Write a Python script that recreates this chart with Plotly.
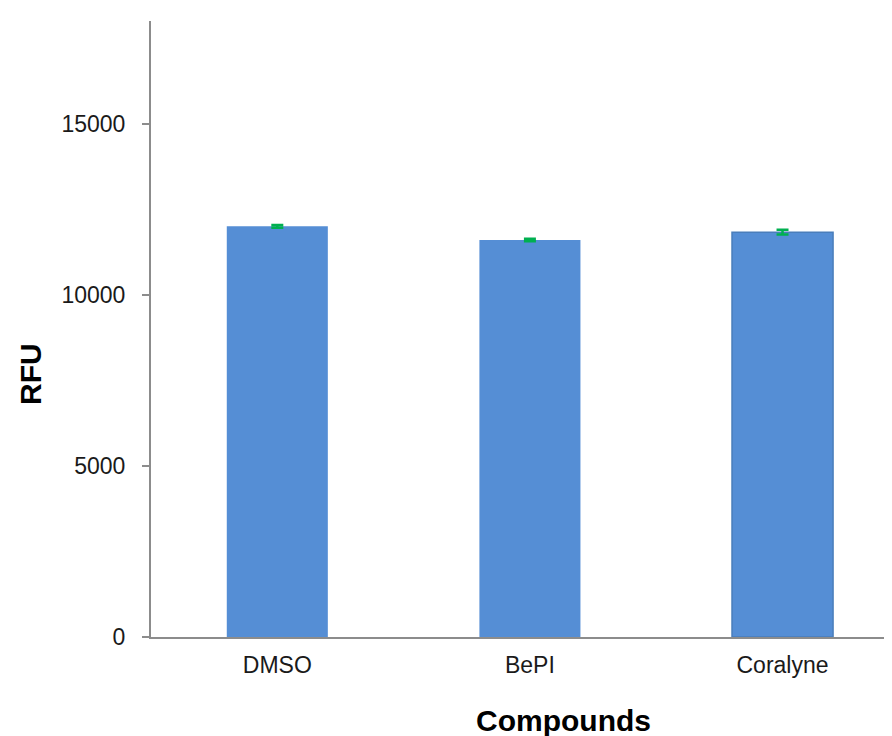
import plotly.graph_objects as go

categories = ["DMSO", "BePI", "Coralyne"]
rfu_values = [12000, 11600, 11830]
rfu_errors = [40, 35, 70]
y_tick_values = [0, 5000, 10000, 15000]
y_tick_labels = ["0", "5000", "10000", "15000"]

W, H = 892, 736
L, R, T, B = 143, 0, 13, 107
plot_w = W - L - R
plot_h = H - T - B

bar_color = "#558ED5"
axis_color = "#8C8C8C"
font_family = "Liberation Sans, Arial, sans-serif"

fig = go.Figure()
fig.add_trace(go.Bar(
    x=categories,
    y=rfu_values,
    width=0.4,
    marker=dict(color=bar_color,
                line=dict(color=["rgba(0,0,0,0)", "rgba(0,0,0,0)", "#4A7EBB"],
                          width=[0, 0, 1.5])),
    error_y=dict(type="data", array=rfu_errors, visible=True,
                 color="#00B050", thickness=2.5, width=6),
    showlegend=False,
))

def px_x(px):
    return (px - L) / plot_w

def px_y(px):
    return (H - B - px) / plot_h

fig.update_layout(
    width=W, height=H,
    margin=dict(l=L, r=R, t=T, b=B, pad=0),
    plot_bgcolor="white",
    paper_bgcolor="white",
    font=dict(family=font_family, color="#1A1A1A", size=23),
    xaxis=dict(
        range=[-0.5, 2.465],
        showline=True, linecolor=axis_color, linewidth=2,
        ticks="", showgrid=False, zeroline=False,
        tickfont=dict(size=23, color="#1A1A1A"),
        ticklabelstandoff=6,
        automargin=False,
    ),
    yaxis=dict(
        range=[0, 18000],
        tickvals=y_tick_values, ticktext=y_tick_labels,
        showline=True, linecolor=axis_color, linewidth=2,
        ticks="outside", ticklen=7, tickwidth=2, tickcolor=axis_color,
        showgrid=False, zeroline=False,
        tickfont=dict(size=23, color="#1A1A1A"),
        ticklabelstandoff=12,
        automargin=False,
    ),
    bargap=0.6,
    annotations=[
        dict(text="<b>RFU</b>", xref="paper", yref="paper",
             x=px_x(22), y=px_y(366), textangle=-90, showarrow=False,
             xanchor="center", yanchor="middle",
             font=dict(size=30, color="#000000", family=font_family)),
        dict(text="<b>Compounds</b>", xref="paper", yref="paper",
             x=px_x(555), y=px_y(713), showarrow=False,
             xanchor="center", yanchor="middle",
             font=dict(size=30, color="#000000", family=font_family)),
    ],
)

fig.write_html("out.html")
